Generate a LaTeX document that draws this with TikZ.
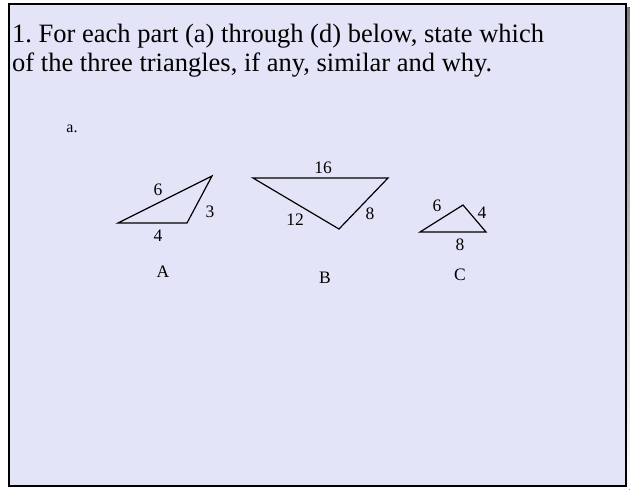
\documentclass[tikz,border=0pt]{standalone}
\usepackage{fontspec}
\setmainfont{Liberation Serif}
\usetikzlibrary{calc}
\definecolor{slidebg}{HTML}{E3E4F7}
\definecolor{shade}{HTML}{8C8C8C}

\begin{document}
\frenchspacing
\begin{tikzpicture}[
  x=1pt, y=-1pt,
  tri/.style={draw=black, line width=1.2pt, line join=miter},
  len/.style={font=\fontsize{17.5}{19}\selectfont, inner sep=0pt},
  tag/.style={font=\fontsize{17.5}{19}\selectfont, inner sep=0pt},
  title/.style={font=\fontsize{26.5}{29}\selectfont, align=left, anchor=north west, inner sep=0pt}
]
\useasboundingbox (0,0) rectangle (636,490);
% ---------------- Slide frame ----------------
\fill[shade] (12,7) rectangle (629.5,489.5);
\draw[fill=slidebg, line width=1.4pt] (9,4) rectangle (626,486);
\node[title] (q) at (12,23.5) {1. For each part (a) through (d) below, state which\\of the three triangles, if any, similar and why.};
\node[font=\fontsize{16}{18}\selectfont, inner sep=0pt] (part) at (72,129) {a.};
% ---------------- Triangle A ----------------
\coordinate (a1) at (118,223);
\coordinate (a2) at (187,223);
\coordinate (a3) at (212,176);
\draw[tri] (a1) -- (a2) -- (a3) -- cycle;
\node[len] (a6) at (158,190) {6};
\node[len] (a3l) at (210,212) {3};
\node[len] (a4) at (158,236) {4};
\node[tag] (A) at (163,272) {A};
% ---------------- Triangle B ----------------
\coordinate (b1) at (253,178);
\coordinate (b2) at (388,178);
\coordinate (b3) at (339,229);
\draw[tri] (b1) -- (b2) -- (b3) -- cycle;
\node[len] (b16) at (323,168) {16};
\node[len] (b12) at (295,220) {12};
\node[len] (b8) at (370,214) {8};
\node[tag] (B) at (325,278) {B};
% ---------------- Triangle C ----------------
\coordinate (c1) at (420,232);
\coordinate (c2) at (486,232);
\coordinate (c3) at (463,205);
\draw[tri] (c1) -- (c2) -- (c3) -- cycle;
\node[len] (c6) at (437,206) {6};
\node[len] (c4) at (482,213) {4};
\node[len] (c8) at (460,245) {8};
\node[tag] (C) at (460,275) {C};
\end{tikzpicture}
\end{document}
